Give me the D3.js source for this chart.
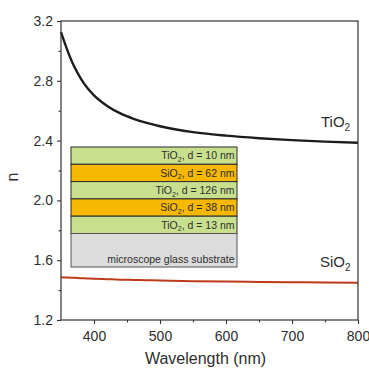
<!DOCTYPE html>
<html>
<head>
<meta charset="utf-8">
<script src="https://cdn.jsdelivr.net/npm/d3@7"></script>
<style>
  html, body { margin: 0; padding: 0; background: #fff; }
  svg { display: block; font-family: "Liberation Sans", Arial, sans-serif; }
</style>
</head>
<body>
<svg id="chart" width="369" height="368"></svg>
<script>
// Refractive index dispersion of the two coating materials
const wavelengths = [350, 360, 370, 380, 390, 400, 420, 440, 460, 480, 500, 550, 600, 650, 700, 750, 800];
const nTiO2 = [3.125, 3.00, 2.895, 2.815, 2.752, 2.703, 2.632, 2.582, 2.546, 2.518, 2.496, 2.457, 2.433, 2.416, 2.403, 2.393, 2.386];
const nSiO2 = [1.486, 1.484, 1.482, 1.480, 1.478, 1.476, 1.473, 1.470, 1.468, 1.466, 1.464, 1.460, 1.457, 1.455, 1.453, 1.451, 1.450];

// Axis ticks
const xMajorTicks = [400, 500, 600, 700, 800];
const xMinorTicks = [450, 550, 650, 750];
const yMajorTicks = [1.2, 1.6, 2.0, 2.4, 2.8, 3.2];
const yMinorTicks = [1.4, 1.8, 2.2, 2.6, 3.0];

// Multilayer stack, top to bottom
const layerMaterials = ["TiO", "SiO", "TiO", "SiO", "TiO"];
const layerThickness = [10, 62, 126, 38, 13];
const substrateLabel = "microscope glass substrate";

const svg = d3.select("#chart");
const plot = { left: 61, right: 358, top: 21, bottom: 320 };

const x = d3.scaleLinear().domain([350, 800]).range([plot.left, plot.right]);
const y = d3.scaleLinear().domain([1.2, 3.2]).range([plot.bottom, plot.top]);

const axisColor = "#333";
const textColor = "#2e2e2e";

// Axes
function styleAxis(g) {
  g.select(".domain").remove();
  g.selectAll("line").attr("stroke", axisColor).attr("stroke-width", 1.1);
  g.selectAll("text").attr("fill", textColor).attr("font-size", 14)
    .attr("font-family", "\"Liberation Sans\", Arial, sans-serif");
}

svg.append("g")
  .attr("transform", `translate(0,${plot.bottom})`)
  .call(d3.axisBottom(x).tickValues(xMajorTicks).tickSize(4).tickPadding(7.5).tickFormat(d3.format("d")))
  .call(styleAxis);
svg.append("g")
  .attr("transform", `translate(0,${plot.bottom})`)
  .call(d3.axisBottom(x).tickValues(xMinorTicks).tickSize(2.5).tickFormat(""))
  .call(styleAxis);
svg.append("g")
  .attr("transform", `translate(${plot.left},0)`)
  .call(d3.axisLeft(y).tickValues(yMajorTicks).tickSize(4).tickPadding(4).tickFormat(d3.format(".1f")))
  .call(styleAxis);
svg.append("g")
  .attr("transform", `translate(${plot.left},0)`)
  .call(d3.axisLeft(y).tickValues(yMinorTicks).tickSize(2.5).tickFormat(""))
  .call(styleAxis);

// Axis titles
svg.append("text")
  .attr("x", (plot.left + plot.right) / 2 - 4)
  .attr("y", 364)
  .attr("text-anchor", "middle")
  .attr("font-size", 16)
  .attr("fill", textColor)
  .text("Wavelength (nm)");
svg.append("text")
  .attr("transform", "translate(18,177) rotate(-90)")
  .attr("text-anchor", "middle")
  .attr("font-size", 16)
  .attr("fill", textColor)
  .text("n");

// Curves
const series = [
  { values: nTiO2, color: "#1b1f1b", width: 2.4 },
  { values: nSiO2, color: "#bd3b1b", width: 2.0 }
];
const line = d3.line()
  .x(d => x(d[0]))
  .y(d => y(d[1]))
  .curve(d3.curveMonotoneX);
svg.append("g")
  .selectAll("path")
  .data(series)
  .join("path")
  .attr("d", s => line(wavelengths.map((w, i) => [w, s.values[i]])))
  .attr("fill", "none")
  .attr("stroke", s => s.color)
  .attr("stroke-width", s => s.width);

// Curve labels
function formula(base, px, py) {
  const t = svg.append("text").attr("x", px).attr("y", py)
    .attr("font-size", 15).attr("fill", textColor);
  t.append("tspan").text(base);
  t.append("tspan").attr("font-size", 10).attr("dy", 4).text("2");
}
formula("TiO", 321, 127);
formula("SiO", 320, 267);

// Inset: multilayer stack
const inset = { left: 71, right: 237, top: 147, layerH: 17.3, substrateH: 33.5 };
const layerColor = { TiO: "#c8e08e", SiO: "#f6b800" };
const stack = svg.append("g");
const layers = layerMaterials.map((m, i) => ({ m, d: layerThickness[i], i }));

stack.selectAll("rect.layer")
  .data(layers)
  .join("rect")
  .attr("class", "layer")
  .attr("x", inset.left)
  .attr("y", d => inset.top + d.i * inset.layerH)
  .attr("width", inset.right - inset.left)
  .attr("height", inset.layerH)
  .attr("fill", d => layerColor[d.m])
  .attr("stroke", "#2a2a2a")
  .attr("stroke-width", 1);

const subTop = inset.top + layers.length * inset.layerH;
stack.append("rect")
  .attr("x", inset.left)
  .attr("y", subTop)
  .attr("width", inset.right - inset.left)
  .attr("height", inset.substrateH)
  .attr("fill", "#dcdcdc")
  .attr("stroke", "#555")
  .attr("stroke-width", 1);

const layerText = stack.selectAll("text.layer")
  .data(layers)
  .join("text")
  .attr("class", "layer")
  .attr("x", inset.right - 2.5)
  .attr("y", d => inset.top + d.i * inset.layerH + inset.layerH / 2 + 3.8)
  .attr("text-anchor", "end")
  .attr("font-size", 10.5)
  .attr("fill", textColor);
layerText.append("tspan").text(d => d.m);
layerText.append("tspan").attr("font-size", 7).attr("dy", 2.5).text("2");
layerText.append("tspan").attr("dy", -2.5).text(d => `, d = ${d.d} nm`);

stack.append("text")
  .attr("x", inset.right - 2.5)
  .attr("y", subTop + inset.substrateH - 4.5)
  .attr("text-anchor", "end")
  .attr("font-size", 10.5)
  .attr("fill", textColor)
  .text(substrateLabel);

// Frame
svg.append("rect")
  .attr("x", plot.left)
  .attr("y", plot.top)
  .attr("width", plot.right - plot.left)
  .attr("height", plot.bottom - plot.top)
  .attr("fill", "none")
  .attr("stroke", axisColor)
  .attr("stroke-width", 1.2);
</script>
</body>
</html>
